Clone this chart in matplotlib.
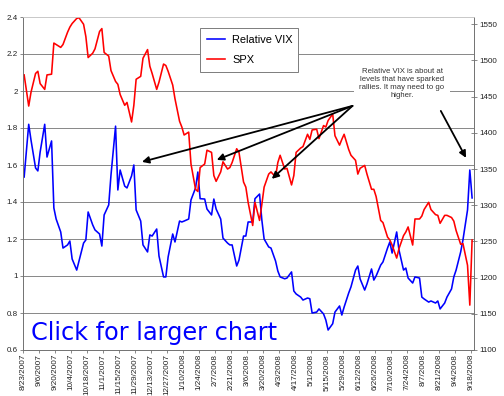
import matplotlib
matplotlib.use('Agg')
import matplotlib.pyplot as plt
import pandas as pd

plt.rcParams['font.family'] = ['Liberation Sans', 'DejaVu Sans']

# every other trading day, 8/24/2007 .. 9/19/2008
start_day = '2007-08-24'

rel_vix = [1.535, 1.82, 1.735, 1.584, 1.568,
           1.670, 1.82, 1.643, 1.730, 1.368,
           1.308, 1.238, 1.151, 1.168, 1.189,
           1.092, 1.032, 1.081, 1.178, 1.195,
           1.346, 1.276, 1.249, 1.227, 1.162,
           1.330, 1.384, 1.546, 1.81, 1.465,
           1.573, 1.486, 1.476, 1.541, 1.60,
           1.357, 1.297, 1.168, 1.130, 1.222,
           1.216, 1.254, 1.108, 0.995, 0.995,
           1.103, 1.227, 1.184, 1.297, 1.292,
           1.297, 1.308, 1.411, 1.476, 1.562,
           1.418, 1.416, 1.362, 1.330, 1.416,
           1.362, 1.308, 1.205, 1.178, 1.168,
           1.168, 1.054, 1.086, 1.216, 1.216,
           1.292, 1.292, 1.418, 1.443, 1.303,
           1.200, 1.157, 1.151, 1.081, 1.027,
           0.995, 0.985, 0.989, 1.022, 0.919,
           0.903, 0.886, 0.870, 0.881, 0.877,
           0.800, 0.805, 0.822, 0.795, 0.762,
           0.708, 0.742, 0.805, 0.838, 0.789,
           0.832, 0.908, 0.941, 1.032, 1.054,
           0.984, 0.924, 0.957, 1.038, 0.978,
           1.000, 1.059, 1.076, 1.151, 1.184,
           1.124, 1.238, 1.141, 1.032, 1.043,
           0.989, 0.962, 0.995, 0.989, 0.886,
           0.876, 0.859, 0.865, 0.854, 0.865,
           0.822, 0.854, 0.886, 0.930, 0.995,
           1.032, 1.130, 1.195, 1.357, 1.573,
           1.422]

spx = [1480, 1437, 1456, 1482, 1485,
       1468, 1460, 1480, 1481, 1524,
       1522, 1518, 1522, 1539, 1546,
       1551, 1558, 1559, 1550, 1533,
       1504, 1510, 1516, 1540, 1544,
       1511, 1506, 1486, 1471, 1467,
       1453, 1438, 1442, 1415, 1438,
       1474, 1478, 1503, 1515, 1492,
       1482, 1460, 1470, 1495, 1493,
       1485, 1466, 1447, 1416, 1408,
       1397, 1401, 1357, 1322, 1319,
       1352, 1357, 1376, 1373, 1341,
       1333, 1346, 1360, 1350, 1352,
       1359, 1378, 1373, 1332, 1325,
       1304, 1272, 1304, 1279, 1301,
       1325, 1343, 1346, 1339, 1359,
       1369, 1350, 1351, 1328, 1341,
       1373, 1379, 1381, 1398, 1391,
       1404, 1405, 1392, 1410, 1408,
       1417, 1426, 1396, 1383, 1391,
       1398, 1377, 1369, 1362, 1343,
       1351, 1355, 1343, 1322, 1322,
       1312, 1279, 1276, 1256, 1252,
       1245, 1227, 1240, 1258, 1263,
       1270, 1245, 1281, 1281, 1285,
       1294, 1304, 1294, 1287, 1286,
       1275, 1286, 1286, 1283, 1278,
       1265, 1246, 1247, 1217, 1162,
       1252]

vix_ticks = [0.6, 0.8, 1.0, 1.2, 1.4, 1.6, 1.8, 2.0, 2.2, 2.4]
vix_labels = ['0.6', '0.8', '1', '1.2', '1.4', '1.6', '1.8', '2', '2.2', '2.4']
spx_ticks = [1100, 1150, 1200, 1250, 1300, 1350, 1400, 1450, 1500, 1550]

note = ('Relative VIX is about at\nlevels that have sparked\n'
        'rallies. It may need to go\nhigher.')

dates = pd.bdate_range(start_day, periods=len(spx), freq='2B')
date_ticks = pd.date_range('2007-08-23', '2008-09-18', freq='14D')
date_labels = [f'{d.month}/{d.day}/{d.year}' for d in date_ticks]

fig = plt.figure(figsize=(7, 5.5), dpi=72)
ax = fig.add_axes([23 / 504, 46 / 396, 450.7 / 504, 333 / 396])
ax2 = ax.twinx()

l1, = ax.plot(dates, rel_vix, color='#0000ff', lw=1.6, label='Relative VIX')
l2, = ax2.plot(dates, spx, color='#ff0000', lw=1.6, label='SPX')

ax.set_xlim(pd.Timestamp('2007-08-23'), pd.Timestamp('2007-08-23') + pd.Timedelta(days=394.4))
ax.set_ylim(0.6, 2.4)
ax2.set_ylim(1100, 1560)

ax.set_yticks(vix_ticks)
ax.set_yticklabels(vix_labels)
ax2.set_yticks(spx_ticks)
ax.set_xticks(date_ticks)
ax.set_xticklabels(date_labels, rotation=90)

ax.grid(axis='y', color='#8a8a8a', lw=1)
ax.set_axisbelow(True)

for a in (ax, ax2):
    for s in a.spines.values():
        s.set_color('#707070')
    a.spines['top'].set_color('#cccccc')

ax.tick_params(axis='y', direction='out', length=3, pad=2, labelsize=8, colors='#707070', labelcolor='#222222')
ax.tick_params(axis='x', direction='out', length=3, pad=1, labelsize=8.1, colors='#707070', labelcolor='#222222')
ax2.tick_params(axis='y', direction='inout', length=6, pad=3, labelsize=8, colors='#707070', labelcolor='#222222')

leg = ax2.legend([l1, l2], ['Relative VIX', 'SPX'], loc='upper left',
                 bbox_to_anchor=(0.393, 0.827, 0.217, 0.14), mode='expand',
                 fontsize=11, frameon=True, fancybox=False, framealpha=1,
                 edgecolor='#808080', borderpad=0.6, labelspacing=0.95,
                 handlelength=1.7, handletextpad=0.6, borderaxespad=0)
leg.get_frame().set_linewidth(1)

ax2.text(0.841, 0.80, note, transform=ax2.transAxes, ha='center', va='center',
         fontsize=7.8, color='#333333', linespacing=1.15,
         bbox=dict(facecolor='white', edgecolor='none', pad=5))

arrow = dict(arrowstyle='-|>', color='black', lw=1.8, mutation_scale=14, shrinkA=0, shrinkB=0)
for tip in [(0.264, 0.565), (0.430, 0.571), (0.552, 0.514)]:
    ax2.annotate('', xy=tip, xytext=(0.731, 0.733), xycoords='axes fraction',
                 textcoords='axes fraction', arrowprops=arrow)
ax2.annotate('', xy=(0.983, 0.577), xytext=(0.927, 0.718), xycoords='axes fraction',
             textcoords='axes fraction', arrowprops=arrow)

ax2.text(0.018, 0.03, 'Click for larger chart', transform=ax2.transAxes,
         ha='left', va='baseline', fontsize=24, color='#0000ff', family='DejaVu Sans')

fig.savefig('out.png', dpi=72)
